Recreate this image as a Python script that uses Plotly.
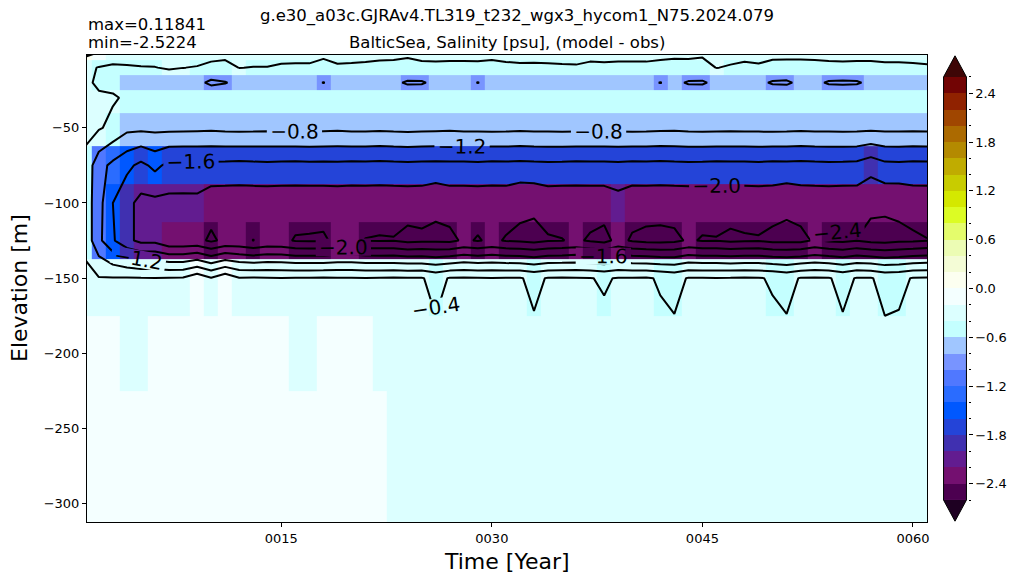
import plotly.graph_objects as go

# ---------------- data ----------------
years = list(range(1, 62))                      # annual samples, year 1..61
depth_levels = [0, 10, 20, 30, 50, 75, 100, 125, 150, 200, 250, 300]   # m

z_0 = [0.11841, -0.01, -0.30, -0.31, -0.22, -0.22, -0.30, -0.30, -0.22, -0.295,
       -0.33, -0.30, -0.22, -0.22, -0.20, -0.23, -0.25, -0.35, -0.20, -0.26,
       -0.28, -0.32, -0.34, -0.36, -0.31, -0.31, -0.31, -0.31, -0.32, -0.33,
       -0.285, -0.27, -0.255, -0.23, -0.21, -0.32, -0.295, -0.295, -0.295, -0.295,
       -0.31, -0.33, -0.35, -0.355, -0.365, -0.30, -0.32, -0.29, -0.24, -0.335,
       -0.34, -0.35, -0.33, -0.31, -0.31, -0.31, -0.31, -0.295, -0.27, -0.245,
       -0.20]
z_10 = [-0.30, -0.42, -0.43, -0.42, -0.42, -0.41, -0.36, -0.395, -0.42, -0.47,
        -0.47, -0.395, -0.41, -0.41, -0.47, -0.47, -0.46, -0.47, -0.47, -0.46,
        -0.47, -0.47, -0.46, -0.47, -0.47, -0.46, -0.47, -0.47, -0.46, -0.47,
        -0.47, -0.46, -0.47, -0.47, -0.46, -0.42, -0.47, -0.46, -0.47, -0.47,
        -0.46, -0.47, -0.47, -0.46, -0.47, -0.395, -0.42, -0.47, -0.46, -0.47,
        -0.47, -0.46, -0.47, -0.47, -0.46, -0.47, -0.47, -0.46, -0.47, -0.47,
        -0.46]
z_20 = [-0.30, -0.48, -0.50, -0.70, -0.70, -0.71, -0.70, -0.69, -0.70, -0.88,
        -0.82, -0.70, -0.71, -0.70, -0.70, -0.69, -0.70, -0.81, -0.70, -0.70,
        -0.71, -0.70, -0.72, -0.85, -0.84, -0.71, -0.70, -0.70, -0.81, -0.70,
        -0.70, -0.71, -0.70, -0.70, -0.69, -0.70, -0.71, -0.70, -0.70, -0.70,
        -0.72, -0.81, -0.71, -0.84, -0.85, -0.70, -0.70, -0.71, -0.72, -0.84,
        -0.86, -0.71, -0.72, -0.84, -0.86, -0.84, -0.72, -0.70, -0.70, -0.71,
        -0.70]
z_30 = [-0.30, -0.33, -0.36, -0.45, -0.46, -0.45, -0.44, -0.45, -0.46, -0.45,
        -0.45, -0.44, -0.45, -0.46, -0.45, -0.45, -0.44, -0.45, -0.46, -0.45,
        -0.45, -0.44, -0.45, -0.46, -0.45, -0.45, -0.44, -0.45, -0.46, -0.45,
        -0.45, -0.44, -0.45, -0.46, -0.45, -0.45, -0.44, -0.45, -0.46, -0.45,
        -0.45, -0.44, -0.45, -0.46, -0.45, -0.45, -0.44, -0.45, -0.46, -0.45,
        -0.45, -0.44, -0.45, -0.46, -0.45, -0.45, -0.44, -0.45, -0.46, -0.45,
        -0.45]
z_50 = [-0.30, -0.36, -0.50, -0.70, -0.71, -0.70, -0.69, -0.70, -0.71, -0.72,
        -0.70, -0.69, -0.70, -0.71, -0.70, -0.70, -0.69, -0.71, -0.72, -0.70,
        -0.70, -0.71, -0.70, -0.69, -0.70, -0.71, -0.72, -0.70, -0.70, -0.69,
        -0.70, -0.71, -0.70, -0.70, -0.69, -0.70, -0.71, -0.70, -0.70, -0.69,
        -0.70, -0.71, -0.72, -0.70, -0.69, -0.70, -0.71, -0.70, -0.70, -0.69,
        -0.70, -0.71, -0.70, -0.70, -0.69, -0.70, -0.71, -0.70, -0.70, -0.71,
        -0.70]
z_75 = [-0.50, -1.05, -1.30, -1.50, -1.70, -1.50, -1.70, -1.71, -1.70, -1.69,
        -1.70, -1.72, -1.70, -1.69, -1.70, -1.71, -1.70, -1.70, -1.69, -1.71,
        -1.70, -1.72, -1.70, -1.69, -1.70, -1.71, -1.70, -1.70, -1.69, -1.71,
        -1.70, -1.72, -1.70, -1.69, -1.70, -1.71, -1.70, -1.70, -1.69, -1.71,
        -1.70, -1.72, -1.70, -1.69, -1.70, -1.71, -1.70, -1.70, -1.69, -1.71,
        -1.70, -1.72, -1.70, -1.69, -1.70, -1.71, -1.85, -1.70, -1.69, -1.71,
        -1.70]
z_100 = [-0.55, -1.05, -1.60, -1.90, -2.10, -2.10, -2.10, -2.10, -2.10, -2.25,
         -2.25, -2.25, -2.25, -2.25, -2.25, -2.25, -2.25, -2.25, -2.25, -2.25,
         -2.25, -2.25, -2.25, -2.25, -2.25, -2.33, -2.25, -2.25, -2.25, -2.25,
         -2.25, -2.33, -2.33, -2.25, -2.25, -2.25, -2.25, -2.25, -2.15, -2.25,
         -2.25, -2.25, -2.25, -2.25, -2.25, -2.25, -2.25, -2.25, -2.25, -2.25,
         -2.33, -2.25, -2.25, -2.25, -2.25, -2.25, -2.33, -2.33, -2.33, -2.25,
         -2.25]
z_125 = [-0.50, -1.10, -1.55, -1.90, -2.10, -2.10, -2.30, -2.30, -2.30, -2.46,
         -2.32, -2.30, -2.405, -2.30, -2.32, -2.425, -2.433, -2.445, -2.32, -2.33,
         -2.41, -2.425, -2.417, -2.50, -2.47, -2.47, -2.484, -2.35, -2.425, -2.34,
         -2.425, -2.46, -2.50, -2.43, -2.41, -2.35, -2.44, -2.504, -2.30, -2.44,
         -2.49, -2.504, -2.474, -2.36, -2.425, -2.417, -2.47, -2.4375, -2.425, -2.49,
         -2.486, -2.49, -2.36, -2.46, -2.484, -2.41, -2.50, -2.5224, -2.47, -2.458,
         -2.41]
z_150 = [-0.30, -0.38, -0.38, -0.37, -0.38, -0.39, -0.38, -0.37, -0.15, -0.38,
         -0.15, -0.38, -0.37, -0.38, -0.39, -0.38, -0.38, -0.37, -0.38, -0.38,
         -0.39, -0.38, -0.37, -0.38, -0.38, -0.50, -0.38, -0.37, -0.38, -0.39,
         -0.38, -0.38, -0.47, -0.38, -0.37, -0.38, -0.39, -0.43, -0.38, -0.38,
         -0.37, -0.43, -0.50, -0.38, -0.38, -0.39, -0.38, -0.37, -0.38, -0.43,
         -0.50, -0.38, -0.37, -0.38, -0.49, -0.38, -0.38, -0.50, -0.48, -0.38,
         -0.37]
z_200 = [-0.10, -0.11, -0.10, -0.30, -0.30, -0.09, -0.10, -0.11, -0.10, -0.09,
         -0.10, -0.11, -0.10, -0.09, -0.10, -0.30, -0.30, -0.10, -0.11, -0.10,
         -0.09, -0.30, -0.29, -0.30, -0.31, -0.30, -0.29, -0.30, -0.31, -0.30,
         -0.29, -0.30, -0.31, -0.30, -0.29, -0.30, -0.31, -0.30, -0.29, -0.30,
         -0.31, -0.30, -0.29, -0.30, -0.31, -0.30, -0.29, -0.30, -0.31, -0.30,
         -0.29, -0.30, -0.31, -0.30, -0.29, -0.30, -0.31, -0.30, -0.29, -0.30,
         -0.31]
z_250 = [-0.10, -0.09, -0.10, -0.11, -0.10, -0.09, -0.10, -0.11, -0.10, -0.09,
         -0.10, -0.11, -0.10, -0.09, -0.10, -0.11, -0.10, -0.09, -0.10, -0.11,
         -0.10, -0.09, -0.30, -0.29, -0.30, -0.31, -0.30, -0.29, -0.30, -0.31,
         -0.30, -0.29, -0.30, -0.31, -0.30, -0.29, -0.30, -0.31, -0.30, -0.29,
         -0.30, -0.31, -0.30, -0.29, -0.30, -0.31, -0.30, -0.29, -0.30, -0.31,
         -0.30, -0.29, -0.30, -0.31, -0.30, -0.29, -0.30, -0.31, -0.30, -0.29,
         -0.30]
z_300 = [-0.09, -0.10, -0.11, -0.10, -0.09, -0.10, -0.11, -0.10, -0.09, -0.10,
         -0.11, -0.10, -0.09, -0.10, -0.11, -0.10, -0.09, -0.10, -0.11, -0.10,
         -0.09, -0.10, -0.29, -0.30, -0.31, -0.30, -0.29, -0.30, -0.31, -0.30,
         -0.29, -0.30, -0.31, -0.30, -0.29, -0.30, -0.31, -0.30, -0.29, -0.30,
         -0.31, -0.30, -0.29, -0.30, -0.31, -0.30, -0.29, -0.30, -0.31, -0.30,
         -0.29, -0.30, -0.31, -0.30, -0.29, -0.30, -0.31, -0.30, -0.29, -0.30,
         -0.31]

x_tick_vals = [15, 30, 45, 60]
x_tick_text = ["0015", "0030", "0045", "0060"]
y_tick_vals = [-300, -250, -200, -150, -100, -50]

# colour levels (BoundaryNorm style) and colours
cb_levels = [-2.6, -2.4, -2.2, -2.0, -1.8, -1.6, -1.4, -1.2, -1.0, -0.8, -0.6, -0.4, -0.2,
             0.0, 0.2, 0.4, 0.6, 0.8, 1.0, 1.2, 1.4, 1.6, 1.8, 2.0, 2.2, 2.4, 2.6]
cb_colors = ["#4c0050", "#741070", "#621c90", "#4030b0", "#2444d8", "#0058ff", "#2a6cff",
             "#5078ff", "#7894ff", "#a0c6ff", "#c4ffff", "#dcffff", "#f4ffff",
             "#fcfff0", "#f4fcd6", "#ecfcb4", "#e4fc6c", "#dcfc24", "#d4e800", "#c8cc00",
             "#c0ac00", "#b48a00", "#ac6a00", "#a04600", "#902200", "#720404"]
under_color = "#1e0022"
over_color = "#3e0606"
cb_ticks = [-2.4, -1.8, -1.2, -0.6, 0.0, 0.6, 1.2, 1.8, 2.4]

title_run = "g.e30_a03c.GJRAv4.TL319_t232_wgx3_hycom1_N75.2024.079"
title_var = "BalticSea, Salinity [psu], (model - obs)"
txt_max = "max=0.11841"
txt_min = "min=-2.5224"

# ---------------- build ----------------
rows = [z_0, z_10, z_20, z_30, z_50, z_75, z_100, z_125, z_150, z_200, z_250, z_300]
elev = [-d for d in depth_levels][::-1]
zz = rows[::-1]

zmin, zmax = cb_levels[0], cb_levels[-1]
nb = len(cb_colors)
cscale = []
for i, c in enumerate(cb_colors):
    cscale.append([i / nb, c])
    cscale.append([(i + 1) / nb, c])

FONT = "DejaVu Sans"
W, H = 1020, 584
ml, mr, mt, mb = 87, 0, 55, 62
pw = W - ml - mr
ph = H - mt - mb
ax_right = 927
def px(xp):
    return (xp - ml) / pw
def py(yp):
    return (H - mb - yp) / ph

fig = go.Figure()
fig.add_trace(go.Heatmap(x=years, y=elev, z=zz, colorscale=cscale, zmin=zmin, zmax=zmax,
                         showscale=False, zsmooth=False, hoverinfo="skip"))
fig.add_trace(go.Contour(x=years, y=elev, z=zz, autocontour=False, showscale=False,
                         contours=dict(start=-2.4, end=2.4, size=0.4, coloring="none",
                                       showlabels=True, labelformat=".1f",
                                       labelfont=dict(size=20, color="black", family=FONT)),
                         line=dict(color="black", width=2, smoothing=0), hoverinfo="skip"))

# colourbar built as its own small axes
mids = [(cb_levels[i] + cb_levels[i + 1]) / 2 for i in range(nb)]
ext = 0.05 * (zmax - zmin)
fig.add_trace(go.Heatmap(x=[0, 1], y=cb_levels, z=[[m] for m in mids], colorscale=cscale,
                         zmin=zmin, zmax=zmax, showscale=False, xaxis="x2", yaxis="y2",
                         hoverinfo="skip"))
fig.add_trace(go.Scatter(x=[0, 0.5, 1, 0], y=[zmax, zmax + ext, zmax, zmax], fill="toself",
                         fillcolor=over_color, mode="lines", line=dict(width=0, color="rgba(0,0,0,0)"),
                         xaxis="x2", yaxis="y2", showlegend=False, hoverinfo="skip"))
fig.add_trace(go.Scatter(x=[0, 0.5, 1, 0], y=[zmin, zmin - ext, zmin, zmin], fill="toself",
                         fillcolor=under_color, mode="lines", line=dict(width=0, color="rgba(0,0,0,0)"),
                         xaxis="x2", yaxis="y2", showlegend=False, hoverinfo="skip"))
fig.add_trace(go.Scatter(x=[0, 0, 0.5, 1, 1, 0.5, 0],
                         y=[zmin, zmax, zmax + ext, zmax, zmin, zmin - ext, zmin],
                         mode="lines", line=dict(color="black", width=1),
                         xaxis="x2", yaxis="y2", showlegend=False, hoverinfo="skip"))

axis_common = dict(showline=True, linecolor="black", linewidth=1, mirror=True, ticks="outside",
                   ticklen=4, tickwidth=1, tickcolor="black", showgrid=False, zeroline=False,
                   tickfont=dict(size=13, family=FONT, color="black"))
minor_vals = [v for v in cb_levels if v not in cb_ticks]

fig.update_layout(
    width=W, height=H, margin=dict(l=ml, r=mr, t=mt, b=mb, autoexpand=False),
    paper_bgcolor="white", plot_bgcolor="white", showlegend=False,
    font=dict(family=FONT, color="black"),
    xaxis=dict(domain=[0, px(ax_right)], range=[1.157, 61.0], tickmode="array",
               tickvals=x_tick_vals, ticktext=x_tick_text, **axis_common),
    yaxis=dict(domain=[0, 1], range=[-312.2, -1.6], tickmode="array", tickvals=y_tick_vals,
               **axis_common),
    xaxis2=dict(domain=[px(942.4), px(967.6)], range=[-0.05, 1.05], visible=False,
                anchor="y2", fixedrange=True),
    yaxis2=dict(domain=[0, 1], range=[zmin - ext - 0.01, zmax + ext + 0.01], anchor="x2",
                side="right", tickmode="array", tickvals=cb_ticks, tickformat=".1f",
                ticks="outside", ticklen=4, tickwidth=1, tickcolor="black", showline=False,
                showgrid=False, zeroline=False,
                tickfont=dict(size=13, family=FONT, color="black"),
                minor=dict(tickmode="array", tickvals=minor_vals, ticks="outside",
                           ticklen=2, tickwidth=1, tickcolor="black")),
    annotations=[
        dict(text=title_run, x=px(517), y=py(16), xref="paper", yref="paper",
             showarrow=False, xanchor="center", yanchor="middle", font=dict(size=16.5)),
        dict(text=title_var, x=px(507), y=py(42), xref="paper", yref="paper",
             showarrow=False, xanchor="center", yanchor="middle", font=dict(size=16.5)),
        dict(text=txt_max, x=px(86), y=py(25), xref="paper", yref="paper",
             showarrow=False, xanchor="left", yanchor="middle", font=dict(size=16.5)),
        dict(text=txt_min, x=px(86), y=py(42), xref="paper", yref="paper",
             showarrow=False, xanchor="left", yanchor="middle", font=dict(size=16.5)),
        dict(text="Time [Year]", x=px(507), y=py(561), xref="paper", yref="paper",
             showarrow=False, xanchor="center", yanchor="middle", font=dict(size=22)),
        dict(text="Elevation [m]", x=px(19), y=py(288), xref="paper", yref="paper",
             showarrow=False, xanchor="center", yanchor="middle", textangle=-90,
             font=dict(size=22)),
    ],
)

fig.write_html("out.html")
